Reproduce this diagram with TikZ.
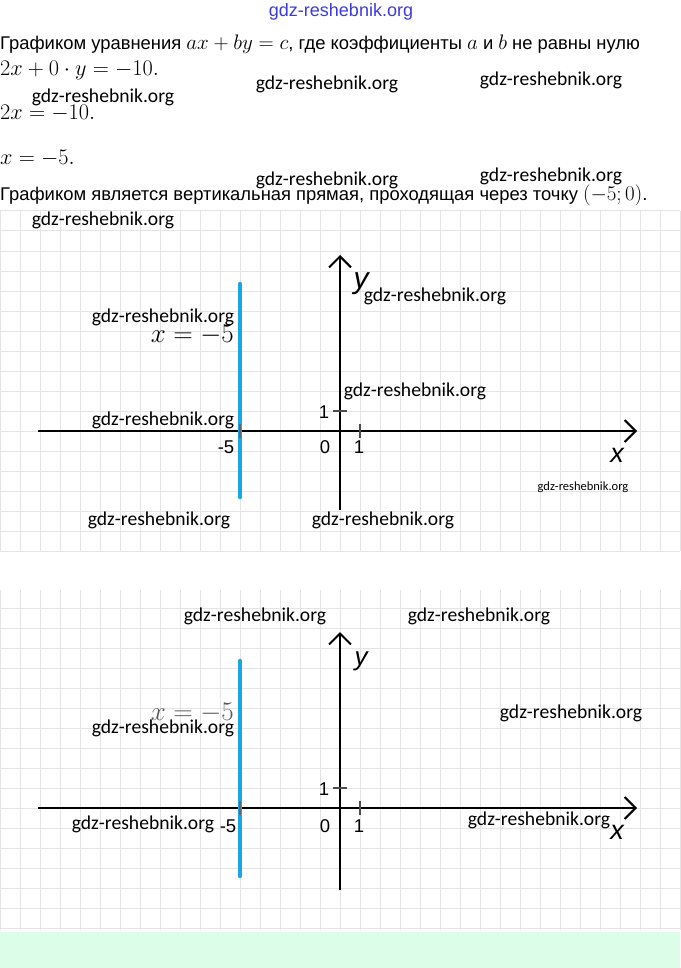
\RequirePackage{fix-cm}
\documentclass[tikz,border=0pt]{standalone}
\usepackage{fontspec}
\newfontfamily\wmfont{Carlito}
\newfontfamily\bodyfont{Liberation Sans}
\usetikzlibrary{arrows.meta}
\definecolor{gridc}{HTML}{E4E4E4}
\definecolor{bluel}{HTML}{1AA6E6}
\definecolor{mint}{HTML}{DCFDE8}
\definecolor{wmblue}{HTML}{3B3BE0}
\newcommand{\bm}[1]{{\fontsize{21}{23}\selectfont$#1$}}
\tikzset{
  wm/.style={font=\wmfont\fontsize{19.6}{21}\selectfont, inner sep=0pt},
  wmsmall/.style={font=\wmfont\fontsize{12.5}{14}\selectfont, inner sep=0pt},
  bodytxt/.style={font=\bodyfont\fontsize{18.4}{20}\selectfont, inner sep=0pt, anchor=base west},
  mathtxt/.style={font=\fontsize{22.3}{24}\selectfont, inner sep=0pt, anchor=base west},
  axis/.style={line width=2.2pt, black, -{Straight Barb[length=11pt,width=22pt,line width=2pt]}},
  graphline/.style={line width=4.5pt, bluel, line cap=round},
  ticklbl/.style={font=\bodyfont\fontsize{18.5}{20}\selectfont, inner sep=0pt},
  axlbl/.style={font=\bodyfont\itshape\fontsize{27}{29}\selectfont, inner sep=0pt},
  tickmark/.style={line width=1.6pt, black!70},
  eqlbl/.style={font=\fontsize{27}{29}\selectfont, inner sep=0pt, anchor=east},
}
\begin{document}
\begin{tikzpicture}[x=1pt,y=-1pt]
\useasboundingbox (0,0) rectangle (680,968);
\fill[white] (0,0) rectangle (680,968);
% grids
\foreach \x in {0,20,...,680} {\draw[gridc, line width=1pt] (\x,211) -- (\x,551);}
\foreach \y in {211,231,...,551} {\draw[gridc, line width=1pt] (0,\y) -- (680,\y);}
\foreach \x in {0,20,...,680} {\draw[gridc, line width=1pt] (\x,590) -- (\x,930);}
\foreach \y in {608,628,...,928} {\draw[gridc, line width=1pt] (0,\y) -- (680,\y);}
\fill[mint] (0,932) rectangle (680,968);
% header text
\node[font=\bodyfont\fontsize{18}{20}\selectfont, text=wmblue, inner sep=0pt] (top) at (341,12) {gdz-reshebnik.org};
\node[bodytxt] (l1) at (0,50) {Графиком уравнения \bm{ax+by=c}, где коэффициенты \bm{a} и \bm{b} не равны нулю};
\node[mathtxt] (l2) at (0,76) {$2x+0\cdot y=-10.$};
\node[mathtxt] (l3) at (0,120) {$2x=-10.$};
\node[mathtxt] (l4) at (0,165) {$x=-5.$};
\node[bodytxt] (l5) at (0,201) {Графиком является вертикальная прямая, проходящая через точку \bm{(-5;0)}.};
% graph 1
\coordinate (xa1) at (38,431); \coordinate (xb1) at (637,431);
\coordinate (ya1) at (340,510); \coordinate (yb1) at (340,255);
\coordinate (ba1) at (240,284); \coordinate (bb1) at (240,497);
\draw[axis] (xa1) -- (xb1);
\draw[axis] (ya1) -- (yb1);
\draw[graphline] (ba1) -- (bb1);
\coordinate (tya1) at (333,411); \coordinate (tyb1) at (347,411);
\coordinate (txa1) at (360,424); \coordinate (txb1) at (360,438);
\coordinate (tma1) at (240,424); \coordinate (tmb1) at (240,438);
\draw[tickmark] (tya1) -- (tyb1);
\draw[tickmark] (txa1) -- (txb1);
\draw[tickmark, black!60] (tma1) -- (tmb1);
\node[axlbl, font=\bodyfont\itshape\fontsize{30}{32}\selectfont] (ylab1) at (361,284) {y};
\node[axlbl] (xlab1) at (617,455) {x};
\node[ticklbl] (one1y) at (324,412) {1};
\node[ticklbl] (zero1) at (325,447) {0};
\node[ticklbl] (one1x) at (359,447) {1};
\node[ticklbl] (m51) at (226,447) {-5};
\node[eqlbl] (eq1) at (234,335) {$x=-5$};
% graph 2
\coordinate (xa2) at (38,808); \coordinate (xb2) at (637,808);
\coordinate (ya2) at (340,890); \coordinate (yb2) at (340,632);
\coordinate (ba2) at (240,661); \coordinate (bb2) at (240,876);
\draw[axis] (xa2) -- (xb2);
\draw[axis] (ya2) -- (yb2);
\draw[graphline] (ba2) -- (bb2);
\coordinate (tya2) at (333,788); \coordinate (tyb2) at (347,788);
\coordinate (txa2) at (360,801); \coordinate (txb2) at (360,815);
\coordinate (tma2) at (240,801); \coordinate (tmb2) at (240,815);
\draw[tickmark] (tya2) -- (tyb2);
\draw[tickmark] (txa2) -- (txb2);
\draw[tickmark, black!60] (tma2) -- (tmb2);
\node[axlbl, font=\bodyfont\itshape\fontsize{26}{28}\selectfont] (ylab2) at (361,661) {y};
\node[axlbl] (xlab2) at (617,832) {x};
\node[ticklbl] (one2y) at (324,789) {1};
\node[ticklbl] (zero2) at (325,826) {0};
\node[ticklbl] (one2x) at (359,826) {1};
\node[ticklbl] (m52) at (228,826) {-5};
\node[eqlbl, text=black!65] (eq2) at (234,713) {$x=-5$};
% watermarks
\node[wm] (w1) at (103,97) {gdz-reshebnik.org};
\node[wm] (w2) at (327,84) {gdz-reshebnik.org};
\node[wm] (w3) at (551,80) {gdz-reshebnik.org};
\node[wm] (w4) at (327,180) {gdz-reshebnik.org};
\node[wm] (w5) at (551,176) {gdz-reshebnik.org};
\node[wm] (w6) at (103,220) {gdz-reshebnik.org};
\node[wm] (w7) at (435,296) {gdz-reshebnik.org};
\node[wm] (w8) at (163,317) {gdz-reshebnik.org};
\node[wm] (w9) at (415,391) {gdz-reshebnik.org};
\node[wm] (w10) at (163,420) {gdz-reshebnik.org};
\node[wmsmall] (w11) at (583,487) {gdz-reshebnik.org};
\node[wm] (w12) at (159,520) {gdz-reshebnik.org};
\node[wm] (w13) at (383,520) {gdz-reshebnik.org};
\node[wm] (w14) at (255,616) {gdz-reshebnik.org};
\node[wm] (w15) at (479,616) {gdz-reshebnik.org};
\node[wm] (w16) at (571,713) {gdz-reshebnik.org};
\node[wm] (w17) at (163,728) {gdz-reshebnik.org};
\node[wm] (w18) at (143,824) {gdz-reshebnik.org};
\node[wm] (w19) at (539,820) {gdz-reshebnik.org};
\end{tikzpicture}
\end{document}
